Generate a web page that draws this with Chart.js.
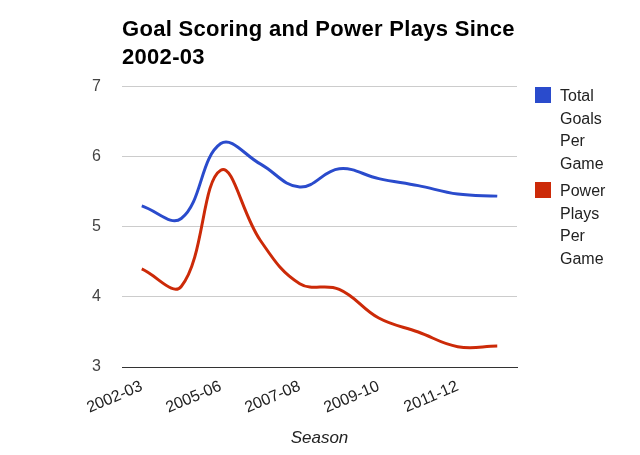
<!DOCTYPE html>
<html>
<head>
<meta charset="utf-8">
<script src="https://cdn.jsdelivr.net/npm/chart.js@4/dist/chart.umd.min.js"></script>
<style>
  html, body { margin: 0; padding: 0; background: #fff; }
  #wrap { position: relative; width: 640px; height: 455px; }
  #legend { position: absolute; left: 535px; top: 85px; font-family: "Liberation Sans", Arial, sans-serif; font-size: 16px; color: #222; }
  .item { position: relative; padding-left: 25px; line-height: 22.7px; margin-bottom: 4px; width: 70px; }
  .sw { position: absolute; left: 0; top: 2px; width: 16px; height: 16px; }
</style>
</head>
<body>
<div id="wrap">
  <canvas id="c" width="640" height="455"></canvas>
  <div id="legend"></div>
</div>
<script>
const seasons = ["2002-03","2003-04","2005-06","2006-07","2007-08","2008-09","2009-10","2010-11","2011-12","2012-13"];
const totalGoals = [5.30, 5.12, 6.19, 5.90, 5.57, 5.83, 5.69, 5.59, 5.47, 5.44];
const powerPlays = [4.40, 4.15, 5.81, 4.81, 4.19, 4.11, 3.70, 3.50, 3.29, 3.30];
const seriesNames = ["Total Goals Per Game", "Power Plays Per Game"];
const seriesColors = ["#2a4bcc", "#cc2a08"];
const yTicks = [3, 4, 5, 6, 7];
const titleLines = ["Goal Scoring and Power Plays Since", "2002-03"];
const xTitle = "Season";

const FONT = "'Liberation Sans', Arial, sans-serif";

// HTML legend, one word per line
const legendEl = document.getElementById('legend');
seriesNames.forEach((name, i) => {
  const d = document.createElement('div');
  d.className = 'item';
  const sw = document.createElement('span');
  sw.className = 'sw';
  sw.style.background = seriesColors[i];
  d.appendChild(sw);
  name.split(' ').forEach((w, k) => {
    if (k) d.appendChild(document.createElement('br'));
    d.appendChild(document.createTextNode(w));
  });
  legendEl.appendChild(d);
});

const titleSpacing = {
  id: 'titleSpacing',
  afterInit(chart) {
    const tb = chart.titleBlock;
    if (!tb) return;
    const orig = tb.draw.bind(tb);
    tb.draw = function () {
      const ctx = chart.ctx;
      ctx.save();
      if ('letterSpacing' in ctx) ctx.letterSpacing = '0.3px';
      orig();
      ctx.restore();
    };
  }
};

new Chart(document.getElementById('c'), {
  type: 'line',
  data: {
    labels: seasons,
    datasets: [
      { label: seriesNames[0], data: totalGoals, borderColor: seriesColors[0], backgroundColor: seriesColors[0],
        borderWidth: 3, pointRadius: 0, tension: 0.4, fill: false },
      { label: seriesNames[1], data: powerPlays, borderColor: seriesColors[1], backgroundColor: seriesColors[1],
        borderWidth: 3, pointRadius: 0, tension: 0.4, fill: false }
    ]
  },
  plugins: [titleSpacing],
  options: {
    responsive: false,
    devicePixelRatio: 1,
    animation: false,
    layout: { padding: { left: 0, right: 123, top: 0, bottom: 0 } },
    plugins: {
      legend: { display: false },
      tooltip: { enabled: false },
      title: {
        display: true,
        text: titleLines,
        align: 'start',
        fullSize: false,
        color: '#000',
        font: { family: FONT, size: 22, weight: 'bold', lineHeight: 1.27 },
        padding: { top: 16, bottom: 15 }
      }
    },
    scales: {
      x: {
        offset: true,
        grid: { display: false },
        border: { display: true, color: '#333', width: 1 },
        ticks: {
          autoSkip: false,
          minRotation: 23, maxRotation: 23,
          padding: 2,
          color: '#222',
          font: { family: FONT, size: 16 },
          callback: function (v, i) { return i % 2 === 0 ? seasons[i] : ''; }
        },
        title: {
          display: true, text: xTitle, color: '#222',
          font: { family: FONT, size: 17, style: 'italic' },
          padding: { top: 0, bottom: 7 }
        },
        afterFit: function (s) { s.height = 88; }
      },
      y: {
        min: 3, max: 7,
        afterBuildTicks: function (s) { s.ticks = yTicks.map(v => ({ value: v })); },
        grid: {
          drawTicks: false,
          color: function (ctx) { return ctx.tick && ctx.tick.value === 3 ? '#333' : '#cccccc'; },
          lineWidth: 1
        },
        border: { display: false },
        ticks: { padding: 21, color: '#444', font: { family: FONT, size: 16 } },
        afterFit: function (s) { s.width = 122; }
      }
    }
  }
});
</script>
</body>
</html>
